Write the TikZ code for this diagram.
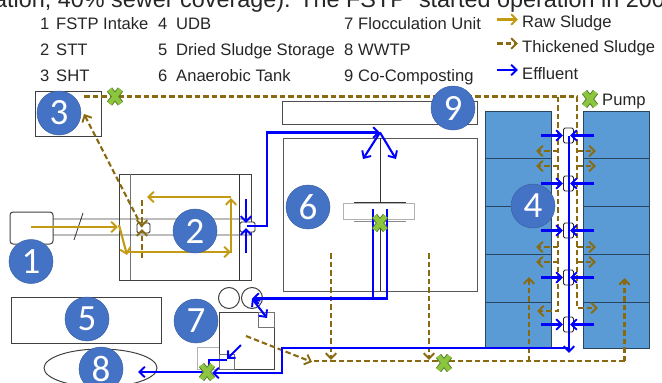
\documentclass[tikz,border=0pt]{standalone}
\usepackage{fontspec}
\setmainfont{Liberation Sans}
\newfontfamily\badgefont{Carlito}
\usepackage{xcolor}
\usetikzlibrary{arrows.meta,shapes.geometric}
\definecolor{rawsludge}{HTML}{C49A12}
\definecolor{thicksludge}{HTML}{8A6A10}
\definecolor{effluent}{HTML}{0000FF}
\definecolor{badgeblue}{HTML}{4472C4}
\definecolor{tankblue}{HTML}{5B9BD5}
\definecolor{pumpgreen}{HTML}{8CC63F}
\tikzset{
  >={Straight Barb[length=5.5pt,width=10.5pt,line width=1.9pt]},
  flow/.style={line width=2.1pt,->},
  raw flow/.style={flow,rawsludge},
  thick flow/.style={flow,thicksludge,dash pattern=on 5.5pt off 3pt},
  thick line/.style={line width=2.1pt,thicksludge,dash pattern=on 5.5pt off 3pt},
  water flow/.style={flow,effluent},
  water line/.style={line width=2.1pt,effluent},
  unit box/.style={draw=black!75,line width=1pt,inner sep=0pt},
  soft box/.style={draw=black!30,line width=1pt,inner sep=0pt},
  valve box/.style={draw=black!85,line width=.8pt,rounded corners=1.5pt,inner sep=0pt},
  udb cell/.style={draw=black!55!tankblue,fill=tankblue,line width=1pt,inner sep=0pt},
  badge/.style={circle,fill=badgeblue,draw=black!15!badgeblue,line width=.5pt,minimum size=44pt,inner sep=0pt,text=white,font=\badgefont\fontsize{37}{37}\selectfont},
  key label/.style={anchor=base west,inner sep=0pt,font=\fontsize{16.6}{18}\selectfont,text=black!85}
}
\newcommand{\PumpMark}[1]{%
  \draw[line width=6.6pt,black!40!pumpgreen] (#1) ++(-5.5,-7) -- ++(11,14) (#1) ++(5.5,-7) -- ++(-11,14);
  \draw[line width=4.8pt,pumpgreen] (#1) ++(-5.5,-7) -- ++(11,14) (#1) ++(5.5,-7) -- ++(-11,14);}

\begin{document}
\begin{tikzpicture}[x=1pt,y=-1pt,line cap=butt,line join=miter]
  \useasboundingbox (0,0) rectangle (662,383);
  \clip (0,0) rectangle (662,383);

  \node[anchor=base west,inner sep=0pt,font=\fontsize{23.4}{26}\selectfont,text=black!85] (heading) at (-6,7.5)
    {ation, 40\% sewer coverage). The FSTP\ \ started operation in 200};

  % key
  \foreach \n/\x/\y/\txt in {a/40/29.5/1,b/40/55.5/2,c/40/81/3,d/56/29.5/FSTP Intake,e/56/55.5/STT,f/56/81/SHT,
      g/158/29.5/4,h/158/55.5/5,i/158/81/6,j/176/29.5/UDB,k/176/55.5/Dried Sludge Storage,l/176/81/Anaerobic Tank,
      m/344/29.5/7,n/344/55.5/8,o/344/81/9,p/358/29.5/Flocculation Unit,q/358/55.5/WWTP,r/358/81/Co-Composting,
      s/522/27/Raw Sludge,t/522/52/Thickened Sludge,u/522/79/Effluent,v/602/105/Pump}
    {\node[key label] (key\n) at (\x,\y) {\txt};}
  \coordinate (keyraw) at (497,19.5);   \coordinate (keyrawend) at (518,19.5);
  \coordinate (keythick) at (497,43.5); \coordinate (keythickend) at (518,43.5);
  \coordinate (keywater) at (497,70);   \coordinate (keywaterend) at (518,70);
  \draw[raw flow] (keyraw)--(keyrawend);
  \draw[thick flow] (keythick)--(keythickend);
  \draw[water flow] (keywater)--(keywaterend);

  % udb columns
  \foreach \x in {518,616}
    \foreach \y/\h in {135/47,182/48,230/48,278/48,325/46}
      {\node[udb cell,minimum width=66pt,minimum height=\h pt] (cell\x\y) at (\x,\y) {};}

  % units
  \node[unit box,minimum width=66pt,minimum height=45pt] (sht) at (68.5,113.5) {};
  \node[unit box,draw=black!70,minimum width=195pt,minimum height=23pt] (compost) at (379.5,112.5) {};
  \node[unit box,draw=black!65,minimum width=194pt,minimum height=153pt] (anaerobic) at (380,214.5) {};
  \node[unit box,minimum width=132pt,minimum height=106pt] (stt) at (185,227) {};
  \node[unit box,rounded corners=3pt,minimum width=43pt,minimum height=32pt] (intake) at (31.5,228) {};
  \node[unit box,minimum width=150pt,minimum height=46pt] (storage) at (86,320) {};
  \node[unit box,ellipse,minimum width=113pt,minimum height=38pt] (wwtp) at (100.5,368) {};
  \node[soft box,minimum width=22pt,minimum height=22pt] (floca) at (208,358) {};
  \node[unit box,minimum width=55pt,minimum height=57pt,fill=white] (floc) at (246.5,340.5) {};
  \node[soft box,draw=black!55,minimum width=16pt,minimum height=15pt] (flocb) at (266,319.5) {};
  \node[soft box,draw=black!55,minimum width=15pt,minimum height=15pt] (flocc) at (226.5,361.5) {};
  \node[unit box,circle,minimum size=21pt] (drumA) at (229,298) {};
  \node[unit box,circle,minimum size=21pt] (drumB) at (252,298) {};

  % stt and tank fittings
  \coordinate (sttA) at (130,174);  \coordinate (sttAend) at (130,280);
  \coordinate (sttB) at (239,174);  \coordinate (sttBend) at (239,280);
  \draw[black!55,line width=.9pt] (sttA)--(sttAend);
  \draw[black!80,line width=.9pt] (sttB)--(sttBend);
  \coordinate (pipeA) at (53,219);  \coordinate (pipeAend) at (252,219);
  \coordinate (pipeB) at (53,235);  \coordinate (pipeBend) at (252,235);
  \coordinate (slash) at (74,240);  \coordinate (slashend) at (83,213);
  \draw[black!75,line width=.9pt] (pipeA)--(pipeAend) (pipeB)--(pipeBend) (slash)--(slashend);
  \node[valve box,fill=white,minimum width=13pt,minimum height=10pt] (sttin) at (143.5,228) {};
  \node[valve box,fill=white,minimum width=15pt,minimum height=10pt] (sttout) at (247.5,227) {};

  \node[soft box,fill=white,minimum width=71pt,minimum height=16pt] (mixer) at (378.5,211) {};
  \coordinate (stemA) at (380,138);  \coordinate (stemB) at (380,202);
  \coordinate (stemC) at (380,221);  \coordinate (stemD) at (380,291);
  \coordinate (barA) at (354,202);   \coordinate (barB) at (406,202);
  \coordinate (barC) at (354,221);   \coordinate (barD) at (406,221);
  \draw[black!80,line width=.9pt] (stemA)--(stemB) (stemC)--(stemD) (barA)--(barB);
  \draw[black!45,line width=.9pt] (barC)--(barD);

  % raw sludge
  \coordinate (rawA) at (31,227);    \coordinate (rawB) at (118,227);
  \coordinate (rawC) at (119,225);   \coordinate (rawD) at (127,255);
  \coordinate (rawE) at (127,252);   \coordinate (rawF) at (231,252);
  \coordinate (rawG) at (231,253);   \coordinate (rawH) at (231,198);
  \coordinate (rawI) at (231,197);   \coordinate (rawJ) at (147,197);
  \draw[raw flow] (rawA)--(rawB);
  \draw[raw flow] (rawC)--(rawD);
  \draw[raw flow] (rawE)--(rawF);
  \draw[raw flow] (rawG)--(rawH);
  \draw[raw flow] (rawI)--(rawJ);

  % thickened sludge
  \coordinate (thA) at (142,200);  \coordinate (thB) at (142,227);
  \coordinate (thC) at (142,258);  \coordinate (thD) at (142,229);
  \coordinate (thE) at (142,227);  \coordinate (thF) at (84,114);
  \coordinate (topA) at (84,96.5); \coordinate (topB) at (577,96.5);
  \coordinate (topC) at (577,308); \coordinate (topD) at (598,308);
  \coordinate (topE) at (558,96.5);\coordinate (topF) at (558,311);
  \coordinate (topG) at (537,311);
  \draw[thick flow] (thA)--(thB);
  \draw[thick flow] (thC)--(thD);
  \draw[thick flow] (thE)--(thF);
  \draw[thick flow] (topA)--(topB)--(topC)--(topD);
  \draw[thick flow] (topE)--(topF)--(topG);
  \foreach \y in {151,166,247,262}{
    \coordinate (sideL\y) at (558,\y); \coordinate (tipL\y) at (536,\y);
    \coordinate (sideR\y) at (577,\y); \coordinate (tipR\y) at (596,\y);
    \draw[thick flow] (sideL\y)--(tipL\y);
    \draw[thick flow] (sideR\y)--(tipR\y);}
  \coordinate (floA) at (246,336);  \coordinate (floB) at (312,362);
  \coordinate (floC) at (624.5,361); \coordinate (floD) at (314,361);
  \coordinate (floE) at (624.5,278);  \coordinate (floF) at (529,361);
  \coordinate (floG) at (529,277);
  \coordinate (floH) at (331,253);  \coordinate (floI) at (331,360);
  \coordinate (floJ) at (429,253);  \coordinate (floK) at (429,360);
  \draw[thick flow] (floA)--(floB);
  \draw[thick line] (floC)--(floD);
  \draw[thick flow] (floC)--(floE);
  \draw[thick flow] (floF)--(floG);
  \draw[thick flow] (floH)--(floI);
  \draw[thick flow] (floJ)--(floK);

  % effluent
  \coordinate (outA) at (247,226);  \coordinate (outB) at (267,226);
  \coordinate (outC) at (267,132.5);\coordinate (outD) at (380,132.5);
  \coordinate (splitL) at (363,159);\coordinate (splitR) at (396,159);
  \coordinate (sinkA) at (246,199); \coordinate (sinkB) at (246,223);
  \coordinate (sinkC) at (246,253); \coordinate (sinkD) at (246,228);
  \draw[water flow] (outA)--(outB)--(outC)--(outD);
  \draw[water flow] (outD)--(splitL);
  \draw[water flow] (outD)--(splitR);
  \draw[water flow] (sinkA)--(sinkB);
  \draw[water flow] (sinkC)--(sinkD);
  \coordinate (riseA) at (373,209); \coordinate (riseB) at (373,298.5);
  \coordinate (riseC) at (387,209); \coordinate (riseD) at (387,298.5);
  \coordinate (riseE) at (252,298.5);\coordinate (flocIn) at (267,318);
  \draw[water line] (riseA)--(riseB);
  \draw[water flow] (riseC)--(riseD)--(riseE);
  \draw[water flow,<->] (riseE)--(flocIn);
  \coordinate (flocA) at (241,345); \coordinate (flocB) at (227,359);
  \coordinate (flocC) at (227,360); \coordinate (flocD) at (209,360);
  \coordinate (flocE) at (209,372); \coordinate (flocF) at (138,372);
  \draw[water flow] (flocA)--(flocB);
  \draw[water line] (flocC)--(flocD)--(flocE);
  \draw[water flow] (flocE)--(flocF);
  \coordinate (mainA) at (568.5,348); \coordinate (mainB) at (282,348);
  \coordinate (mainC) at (282,373);   \coordinate (mainD) at (212,373);
  \draw[water flow] (mainA)--(mainB)--(mainC)--(mainD);
  \coordinate (spineA) at (569,136);  \coordinate (spineB) at (569,353);
  \draw[water flow] (spineA)--(spineB);
  \foreach \y [count=\i] in {135.5,183.5,230.5,277.5,324.5}{
    \node[valve box,minimum width=10pt,minimum height=15pt] (valve\i) at (568.5,\y) {};
    \coordinate (inL\i) at (541,\y); \coordinate (endL\i) at (563,\y);
    \coordinate (inR\i) at (594,\y); \coordinate (endR\i) at (570,\y);
    \draw[water flow] (inL\i)--(endL\i);
    \draw[water flow] (inR\i)--(endR\i);}

  % numbered badges
  \foreach \n/\x/\y in {1/31/261.5,2/195/231,3/59/113,4/533/206,5/87/319,6/308/207,7/196/321,8/101/369,9/453/108}
    {\node[badge] (badge\n) at (\x,\y) {\n};}

  % pumps
  \coordinate (pumpA) at (115,96.5);
  \coordinate (pumpB) at (590,99);
  \coordinate (pumpC) at (380,223);
  \coordinate (pumpD) at (207,372);
  \coordinate (pumpE) at (444,363);
  \foreach \p in {pumpA,pumpB,pumpC,pumpD,pumpE} {\PumpMark{\p}}
\end{tikzpicture}
\end{document}
